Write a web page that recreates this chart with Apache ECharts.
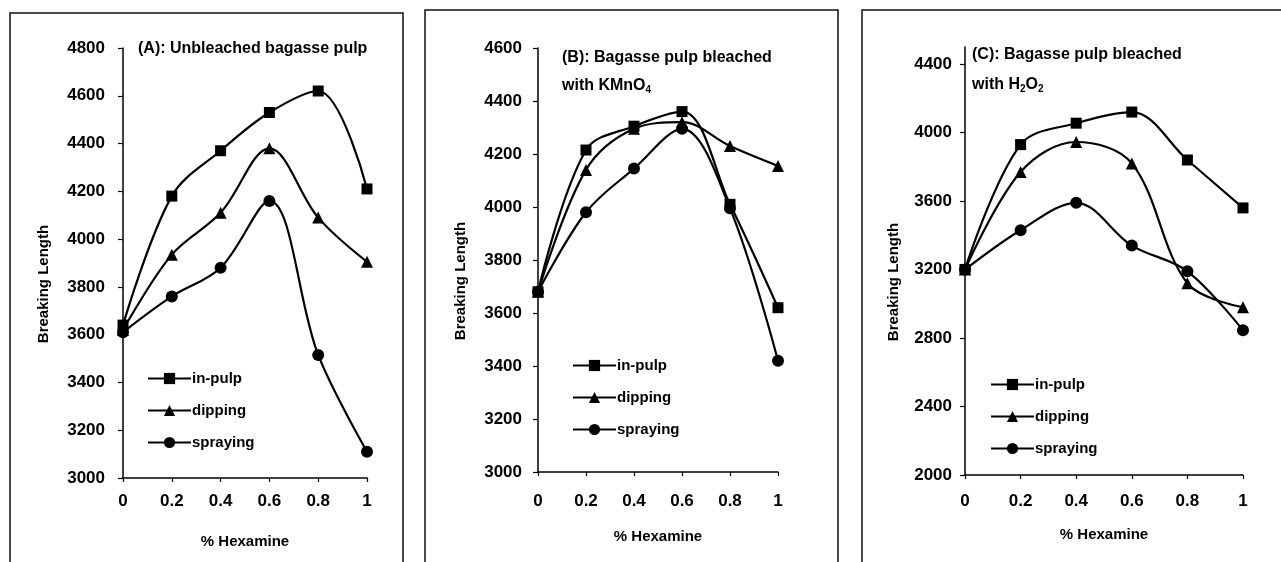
<!DOCTYPE html>
<html>
<head>
<meta charset="utf-8">
<script src="https://cdn.jsdelivr.net/npm/echarts@6/dist/echarts.min.js"></script>
<style>
  html, body { margin: 0; padding: 0; background: #fff; }
  #chart { width: 1281px; height: 562px; }
</style>
</head>
<body>
<div id="chart"></div>
<script>
// % Hexamine
const xValues = [0, 0.2, 0.4, 0.6, 0.8, 1]
const seriesNames = ['in-pulp', 'dipping', 'spraying']

// (A) unbleached
const aInPulp = [3640, 4180, 4370, 4530, 4620, 4210]
const aDipping = [3620, 3935, 4110, 4380, 4090, 3905]
const aSpraying = [3610, 3760, 3880, 4160, 3515, 3110]

// (B) KMnO4
const bInPulp = [3680, 4215, 4305, 4360, 4010, 3620]
const bDipping = [3680, 4140, 4295, 4320, 4230, 4155]
const bSpraying = [3680, 3980, 4145, 4295, 3995, 3420]

// (C) H2O2
const cInPulp = [3200, 3930, 4055, 4120, 3840, 3560]
const cDipping = [3200, 3770, 3945, 3820, 3120, 2980]
const cSpraying = [3200, 3430, 3590, 3340, 3190, 2845]

// y tick labels of panel C
const cTicks = [2000, 2400, 2800, 3200, 3600, 4000, 4400]

const FONT = "'Liberation Sans', Arial, sans-serif"
const symbols = ['rect', 'triangle', 'circle']
const symbolSizes = [11, 12, 12]

const chart = echarts.init(document.getElementById('chart'))

// 面板位置
const grids = [
  { left: 123, top: 48, width: 244, height: 430 },
  { left: 538, top: 48, width: 240, height: 424 },
  { left: 965, top: 47, width: 278, height: 428 }
]

const labelStyle = { color: '#000', fontFamily: FONT, fontWeight: 'bold', fontSize: 17 }

const xAxisFor = (gi, margin, nameGap) => ({
  gridIndex: gi,
  type: 'value',
  min: 0, max: 1, interval: 0.2,
  name: '% Hexamine',
  nameLocation: 'middle',
  nameGap: nameGap,
  nameTextStyle: { ...labelStyle, fontSize: 15 },
  axisLine: { lineStyle: { color: '#000', width: 1.5 } },
  axisTick: { show: true, inside: false, length: 4, lineStyle: { color: '#000', width: 1.2 } },
  axisLabel: { ...labelStyle, margin: margin },
  splitLine: { show: false }
})

const yAxisFor = (gi, min, max, interval, margin, nameGap, extra) => ({
  gridIndex: gi,
  type: 'value',
  min: min, max: max, interval: interval,
  name: 'Breaking Length',
  nameLocation: 'middle',
  nameGap: nameGap,
  nameRotate: 90,
  nameTextStyle: { ...labelStyle, fontSize: 15, padding: [0, 42, 0, 0] },
  axisLine: { show: true, lineStyle: { color: '#000', width: 1.5 } },
  axisTick: { show: true, length: 5, lineStyle: { color: '#000', width: 1.2 }, ...(extra && extra.tick) },
  axisLabel: { ...labelStyle, margin: margin, formatter: v => String(v), ...(extra && extra.label) },
  splitLine: { show: false }
})

const panelData = [
  [aInPulp, aDipping, aSpraying],
  [bInPulp, bDipping, bSpraying],
  [cInPulp, cDipping, cSpraying]
]

const series = []
panelData.forEach((group, gi) => {
  group.forEach((vals, si) => {
    series.push({
      name: seriesNames[si],
      type: 'line',
      xAxisIndex: gi,
      yAxisIndex: gi,
      data: xValues.map((x, i) => [x, vals[i]]),
      smooth: 0.35,
      symbol: symbols[si],
      symbolSize: symbolSizes[si],
      showAllSymbol: true,
      lineStyle: { color: '#000', width: 2.2 },
      itemStyle: { color: '#000' },
      z: 3 - si
    })
  })
})

const legendFor = (left, top) => ({
  left: left, top: top,
  orient: 'vertical',
  itemWidth: 43, itemHeight: 14,
  itemGap: 17,
  selectedMode: false,
  data: seriesNames,
  textStyle: { ...labelStyle, fontSize: 15, padding: [0, 0, 0, -4] }
})

const titleRich = {
  sub: { fontFamily: FONT, fontWeight: 'bold', fontSize: 10, color: '#000', verticalAlign: 'middle', lineHeight: 12, padding: [8, 0, 0, 0] }
}

const frame = (x, y, w, h) => ({
  type: 'rect',
  shape: { x: x, y: y, width: w, height: h },
  style: { fill: 'none', stroke: '#111', lineWidth: 1.5 },
  silent: true
})

chart.setOption({
  backgroundColor: '#fff',
  animation: false,
  title: [
    { text: '(A): Unbleached bagasse pulp', left: 133, top: 36,
      textStyle: { ...labelStyle, fontSize: 16 } },
    { text: '(B): Bagasse pulp bleached\nwith KMnO{sub|4}', left: 557, top: 39,
      textStyle: { ...labelStyle, fontSize: 16, lineHeight: 28, rich: titleRich } },
    { text: '(C): Bagasse pulp bleached\nwith H{sub|2}O{sub|2}', left: 967, top: 35,
      textStyle: { ...labelStyle, fontSize: 16, lineHeight: 30, rich: titleRich } }
  ],
  legend: [legendFor(142, 366), legendFor(567, 353), legendFor(985, 372)],
  grid: grids,
  xAxis: [xAxisFor(0, 15, 56), xAxisFor(1, 21, 57), xAxisFor(2, 18, 52)],
  yAxis: [
    yAxisFor(0, 3000, 4800, 200, 18, 72),
    yAxisFor(1, 3000, 4600, 200, 16, 70),
    yAxisFor(2, 2000, 4500, 400, 13, 64, {
      tick: { customValues: cTicks },
      label: { customValues: cTicks }
    })
  ],
  series: series,
  graphic: [
    frame(10, 13, 393, 600),
    frame(425, 10, 413, 600),
    frame(862, 10, 430, 600)
  ]
})

window.addEventListener('resize', () => chart.resize())
</script>
</body>
</html>
